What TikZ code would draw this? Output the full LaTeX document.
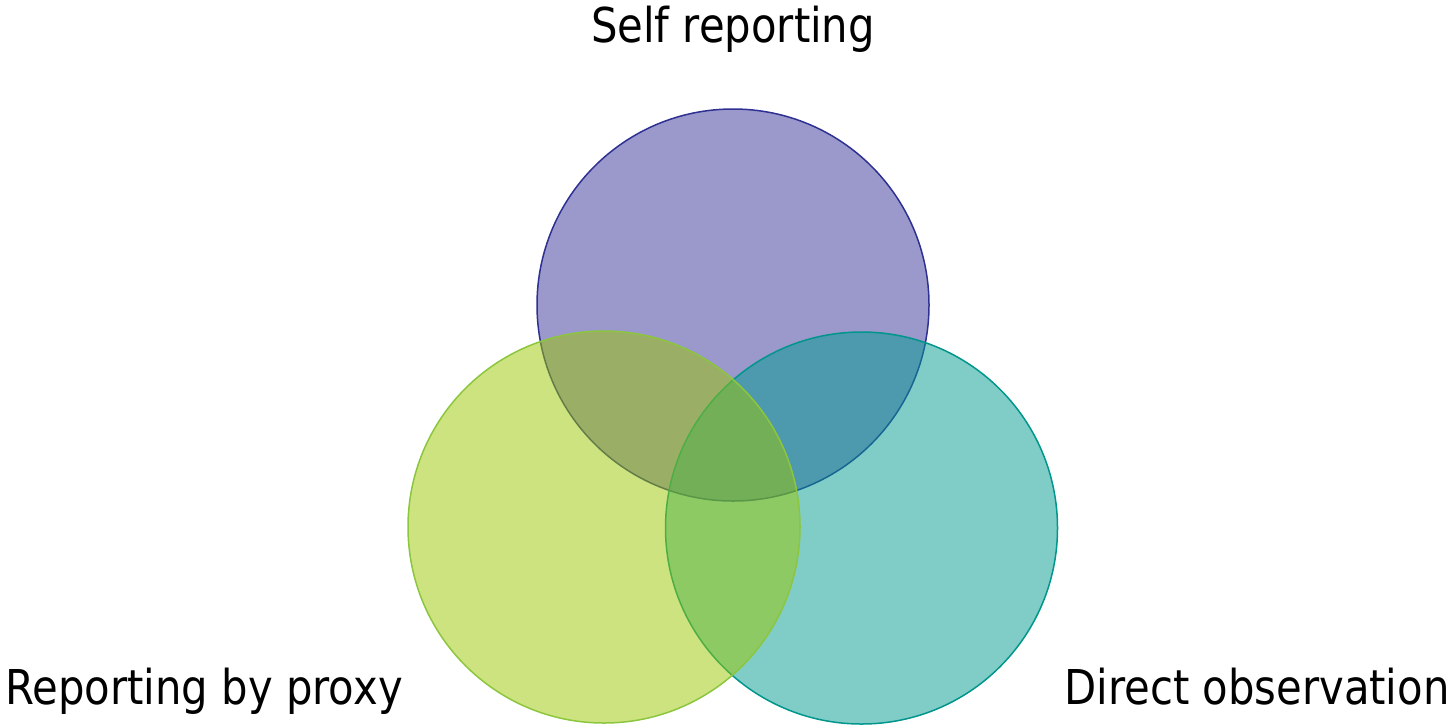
\documentclass[tikz,border=0pt]{standalone}
\usepackage{fontspec}
\setmainfont[FakeStretch=0.87]{DejaVu Sans}
\usepackage{tikz}
\usetikzlibrary{positioning}
\definecolor{selfFill}{RGB}{55, 49, 153}
\definecolor{selfLine}{RGB}{46, 49, 146}
\definecolor{proxyFill}{RGB}{155, 199, 0}
\definecolor{proxyLine}{RGB}{140, 198, 63}
\definecolor{directFill}{RGB}{1, 155, 145}
\definecolor{directLine}{RGB}{0, 150, 140}
\tikzset{
    venn_circle/.style={
        circle,
        draw=#1Line,
        fill=#1Fill,
        fill opacity=0.5,
        draw opacity=1,
        line width=0.75pt,
        inner sep=0pt,
        minimum size=196pt
    },
    venn_label/.style={
        inner sep=0pt,
        font=\fontsize{24}{28}\selectfont,
        text=black
    }
}
\begin{document}
\begin{tikzpicture}[x=0.5pt, y=-0.5pt]
        \useasboundingbox (0,0) rectangle (1454,725);

        \node[venn_circle=self] (self) at (733,305) {};
        \node[venn_circle=direct] (direct) at (861.5,528) {};
        \node[venn_circle=proxy] (proxy) at (604,527) {};

        \node[venn_label, anchor=base] (selfText) at (733,42) {Self reporting};
        \node[venn_label, anchor=base west] (proxyText) at (5,704) {Reporting by proxy};
        \node[venn_label, anchor=base east] (directText) at (1450,704) {Direct observation};
    \end{tikzpicture}
\end{document}
